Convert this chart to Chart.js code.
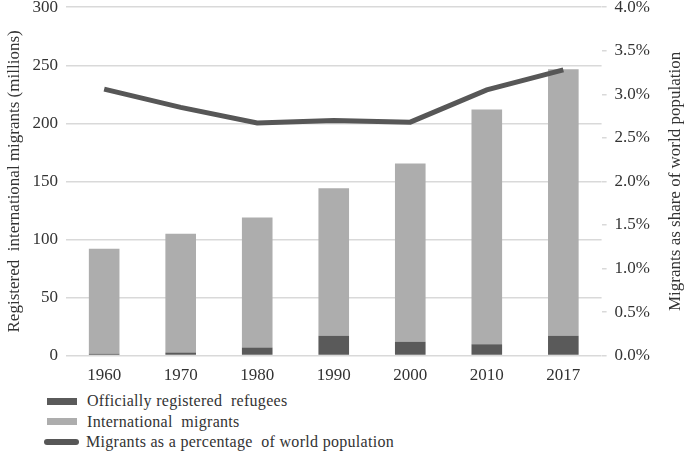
<!DOCTYPE html>
<html>
<head>
<meta charset="utf-8">
<script src="https://cdn.jsdelivr.net/npm/chart.js@4"></script>
<style>
  body { margin: 0; background: #fff; }
  #wrap { position: relative; width: 685px; height: 453px; overflow: hidden; }
  #box { position: absolute; left: 0; top: -11px; width: 685px; height: 399px; }
  #legend { position: absolute; left: 44px; top: 391px; font-family: "Liberation Serif", serif; font-size: 16px; color: #333; letter-spacing: 0.3px; }
  .item { height: 20.5px; display: flex; align-items: center; }
  .sw { width: 30px; height: 7px; margin: 0 10px 0 3px; }
  .ln { width: 35px; height: 6px; border-radius: 3px; margin: 0 7px 0 0; }
</style>
</head>
<body>
<div id="wrap">
  <div id="box"><canvas id="migChart"></canvas></div>
  <div id="legend"></div>
</div>
<script>
// Tahun dan nilai (juta orang / persen)
var years = ['1960', '1970', '1980', '1990', '2000', '2010', '2017'];
var refugees = [1.5, 2.6, 7, 17, 12, 9.7, 17];
var migrants = [90.5, 102.4, 112, 127, 153.5, 202.3, 229.5];
var shareOfPop = [3.06, 2.85, 2.67, 2.70, 2.68, 3.05, 3.28];

var serif = '"Liberation Serif", serif';
var textColor = '#333';
var gridColor = '#d9d9d9';
var rightTitle = 'Migrants as share of world population';

// judul sumbu kanan dibaca dari bawah ke atas
var rightTitlePlugin = {
    id: 'rightTitle',
    afterDraw: function (chart) {
        var c = chart.ctx;
        var area = chart.chartArea;
        c.save();
        c.translate(676, (area.top + area.bottom) / 2);
        c.rotate(-Math.PI / 2);
        c.font = '17px ' + serif;
        c.fillStyle = textColor;
        c.textAlign = 'center';
        c.textBaseline = 'middle';
        c.fillText(rightTitle, 0, 0);
        c.restore();
    }
};

var ctx = document.getElementById('migChart').getContext('2d');
var migChart = new Chart(ctx, {
    type: 'bar',
    data: {
        labels: years,
        datasets: [{
            type: 'line',
            label: 'Migrants as a percentage  of world population',
            data: shareOfPop,
            yAxisID: 'y1',
            borderColor: '#575757',
            backgroundColor: '#575757',
            borderWidth: 5,
            pointRadius: 0,
            tension: 0,
            order: 0
        }, {
            label: 'Officially registered  refugees',
            data: refugees,
            backgroundColor: '#5a5a5a',
            stack: 's',
            order: 1,
            barPercentage: 0.4,
            categoryPercentage: 1
        }, {
            label: 'International  migrants',
            data: migrants,
            backgroundColor: '#adadad',
            stack: 's',
            order: 2,
            barPercentage: 0.4,
            categoryPercentage: 1
        }]
    },
    plugins: [rightTitlePlugin],
    options: {
        responsive: true,
        maintainAspectRatio: false,
        animation: false,
        layout: { padding: { top: 0, right: 27, left: 4, bottom: 0 } },
        plugins: {
            legend: { display: false },
            tooltip: { enabled: false }
        },
        scales: {
            x: {
                stacked: true,
                grid: { display: false },
                border: { display: false },
                ticks: { color: textColor, font: { family: serif, size: 17 }, padding: 2 }
            },
            y: {
                stacked: true,
                min: 0,
                max: 300,
                ticks: { stepSize: 50, color: textColor, font: { family: serif, size: 17 }, padding: 8 },
                grid: { color: gridColor, lineWidth: 1.5, drawTicks: false },
                border: { display: false },
                title: {
                    display: true,
                    text: 'Registered  international migrants (millions)',
                    color: textColor,
                    font: { family: serif, size: 17 },
                    padding: 0
                }
            },
            y1: {
                position: 'right',
                min: 0,
                max: 4,
                ticks: {
                    stepSize: 0.5,
                    color: textColor,
                    font: { family: serif, size: 17 },
                    padding: 8,
                    callback: function (v) { return v.toFixed(1) + '%'; }
                },
                grid: { color: gridColor, lineWidth: 1.5, drawOnChartArea: false, tickLength: 5 },
                border: { display: false }
            }
        }
    }
});

// Legenda manual (vertikal, kiri bawah)
var legendOrder = [1, 2, 0];
var lg = document.getElementById('legend');
legendOrder.forEach(function (i) {
    var ds = migChart.data.datasets[i];
    var row = document.createElement('div');
    row.className = 'item';
    var sw = document.createElement('span');
    sw.className = ds.type === 'line' ? 'ln' : 'sw';
    sw.style.background = ds.type === 'line' ? ds.borderColor : ds.backgroundColor;
    var tx = document.createElement('span');
    tx.textContent = ds.label;
    tx.style.whiteSpace = 'pre';
    row.appendChild(sw);
    row.appendChild(tx);
    lg.appendChild(row);
});
</script>
</body>
</html>
